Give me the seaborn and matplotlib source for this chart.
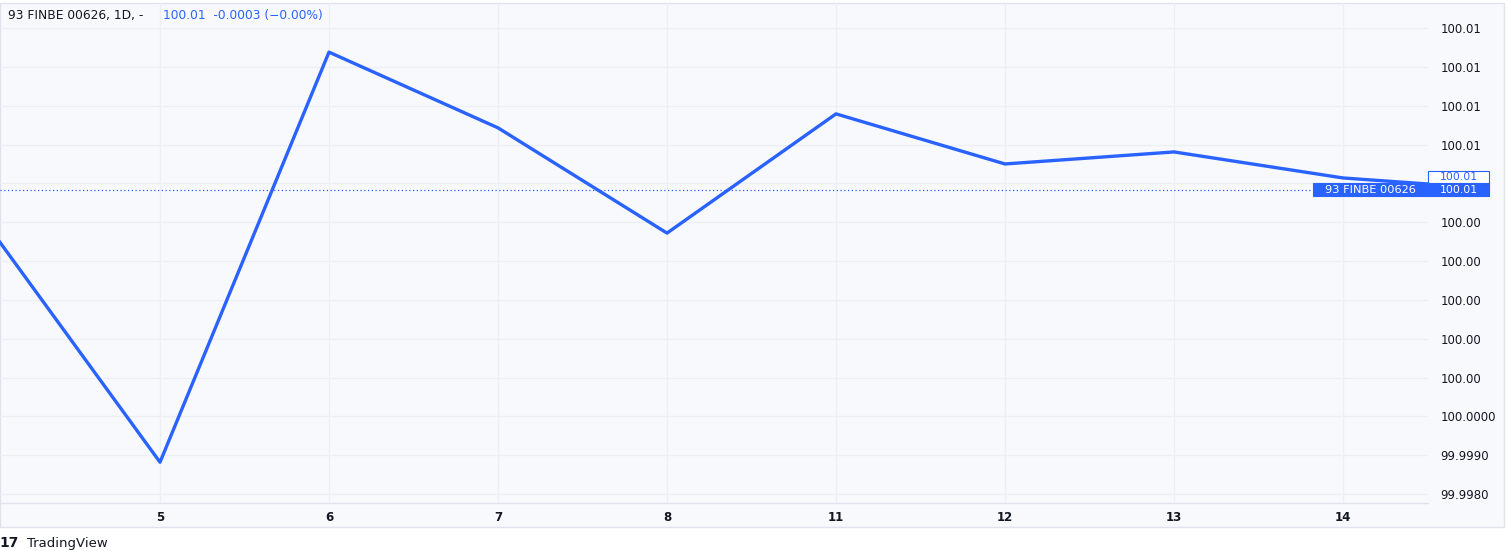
import numpy as np
import pandas as pd
import seaborn as sns
import matplotlib
matplotlib.use("Agg")
import matplotlib.pyplot as plt
from matplotlib.patches import Rectangle
from matplotlib.transforms import blended_transform_factory

# ---------------- data ----------------
days = ["4", "5", "6", "7", "8", "11", "12", "13", "14", "15"]
closes = [100.00480, 99.99882, 100.00938, 100.00743, 100.00472,
          100.00779, 100.00650, 100.00681, 100.00614, 100.00583]
price_ticks = [99.998, 99.999, 100.000, 100.001, 100.002, 100.003, 100.004,
               100.005, 100.006, 100.007, 100.008, 100.009, 100.010]
price_labels = ["99.9980", "99.9990", "100.0000", "100.00", "100.00", "100.00",
                "100.00", "100.00", "100.01", "100.01", "100.01", "100.01", "100.01"]
symbol = "93 FINBE 00626"
legend_head = "93 FINBE 00626, 1D, -"
legend_vals = "100.01  -0.0003 (\u22120.00%)"
last_label = "100.01"

# ---------------- style ----------------
sns.set_theme(style="white")
plt.rcParams['font.family'] = ['DejaVu Sans']

W, H = 1509, 551
BG = "#f8f9fd"
GRID = "#eceff5"
BORDER = "#e0e3eb"
BLUE = "#2962ff"
TXT = "#131722"

fig = plt.figure(figsize=(W / 100, H / 100), dpi=100, facecolor="white")

def fx(px):
    return px / W

def fy(py):
    return 1 - py / H

# chart frame (background of pane + price scale + time scale)
fig.add_artist(Rectangle((fx(0), fy(527)), fx(1504), (527 - 3) / H,
                         transform=fig.transFigure, facecolor=BG,
                         edgecolor=BORDER, linewidth=1.0, zorder=-1))

ax = fig.add_axes([fx(0), fy(503), fx(1428), (503 - 3) / H])
ax.patch.set_alpha(0)

pos = np.arange(len(days))
df = pd.DataFrame({"pos": pos, "close": closes})
sns.lineplot(data=df, x="pos", y="close", ax=ax, color=BLUE, linewidth=2.4,
             zorder=3)

ax.set_xticks(pos, labels=days)
ax.yaxis.tick_right()
ax.set_yticks(price_ticks, labels=price_labels)

ax.set_xlim(9 / 169, 1437 / 169)
ymin, ymax = 99.99777, 100.010645
ax.set_ylim(ymin, ymax)

ax.tick_params(axis="y", length=0, pad=9, labelsize=8.5, labelcolor=TXT)
ax.tick_params(axis="x", length=0, pad=6, labelsize=8.5, labelcolor=TXT)
for lab in ax.get_xticklabels():
    lab.set_fontweight("bold")
ax.set_xlabel("")
ax.set_ylabel("")
ax.grid(True, color=GRID, linewidth=0.9)
ax.set_axisbelow(True)
for s in ["top", "left", "right"]:
    ax.spines[s].set_visible(False)
ax.spines["bottom"].set_color(BORDER)
ax.spines["bottom"].set_linewidth(1.0)

# current price dotted line
ax.axhline(closes[-1], color=BLUE, linestyle=(0, (1, 2)), linewidth=0.9, zorder=2)

# price labels on the scale
dpp = (ymax - ymin) / 500.0  # data units per pixel
tr = blended_transform_factory(fig.transFigure, ax.transData)
h_fill = 13 * dpp
y_fill = closes[-1]
y_out = y_fill + h_fill / 2 + 6 * dpp
fig.add_artist(Rectangle((fx(1428), y_fill - h_fill / 2), fx(1489 - 1428), h_fill,
                         transform=tr, facecolor=BLUE, edgecolor=BLUE, lw=0.8, zorder=5))
fig.add_artist(Rectangle((fx(1313), y_fill - h_fill / 2), fx(1428 - 1313), h_fill,
                         transform=tr, facecolor=BLUE, edgecolor=BLUE, lw=0.8, zorder=5))
fig.text(fx(1458.5), y_fill, last_label, transform=tr, color="white",
         fontsize=7.8, ha="center", va="center", zorder=6)
fig.text(fx(1370.5), y_fill, symbol, transform=tr, color="white",
         fontsize=8.2, ha="center", va="center", zorder=6)
h_out = 12 * dpp
fig.add_artist(Rectangle((fx(1428), y_out - h_out / 2), fx(1489 - 1428), h_out,
                         transform=tr, facecolor="white", edgecolor=BLUE, lw=0.8, zorder=5))
fig.text(fx(1458.5), y_out, last_label, transform=tr, color=BLUE,
         fontsize=7.8, ha="center", va="center", zorder=6)

# legend (top-left)
fig.text(fx(8), fy(16), legend_head, color=TXT, fontsize=8.8, ha="left", va="center")
fig.text(fx(163), fy(16), legend_vals, color=BLUE, fontsize=8.8, ha="left", va="center")

# TradingView attribution
fig.text(fx(-1), fy(543), "17", color=TXT, fontsize=10, fontweight="heavy",
         ha="left", va="center")
fig.text(fx(27), fy(543), "TradingView", color=TXT, fontsize=9.5,
         ha="left", va="center")

fig.savefig("out.png", dpi=100, facecolor="white")
